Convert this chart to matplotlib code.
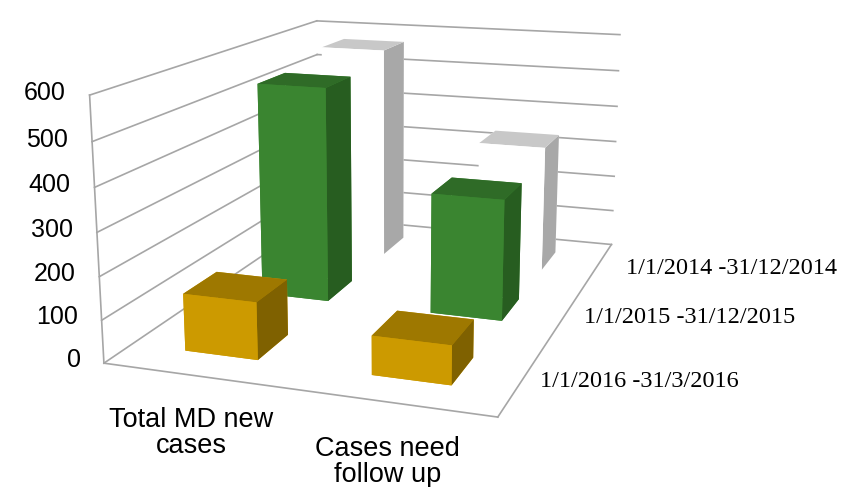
import matplotlib.pyplot as plt

categories = ["Total MD new\ncases", "Cases need\nfollow up"]
periods = ["1/1/2016 -31/3/2016", "1/1/2015 -31/12/2015", "1/1/2014 -31/12/2014"]
cases_2016 = [135, 90]
cases_2015 = [540, 300]
cases_2014 = [570, 335]
z_ticks = [0, 100, 200, 300, 400, 500, 600]

# per-face colours: bottom, top, front, back, left, right
faces_2016 = ["#cc9a00", "#9e7800", "#cc9a00", "#cc9a00", "#cc9a00", "#7f6100"]
faces_2015 = ["#3a8530", "#2f6b27", "#3a8530", "#3a8530", "#3a8530", "#275d20"]
faces_2014 = ["#ffffff", "#c8c8c8", "#ffffff", "#ffffff", "#ffffff", "#a8a8a8"]

grid_col = "#a6a6a6"
xmin, xmax = -0.5, 1.5
ymin, ymax = -0.5, 2.5
zmax = 600
bw = 0.4
label_dx = [0.085, 0.105, 0.175]

fig = plt.figure(figsize=(8.44, 4.87), dpi=100)
ax = fig.add_axes([-0.1985, -0.0625, 1.3, 1.345], projection="3d", computed_zorder=False)
ax.set_proj_type("persp", focal_length=0.39)
ax.view_init(elev=14, azim=-71)
ax.set_box_aspect((1.44, 2.05, 0.965))
ax.set_xlim(xmin, xmax)
ax.set_ylim(ymin, ymax)
ax.set_zlim(0, zmax)
ax.set_xticks([])
ax.set_yticks([])
ax.set_zticks([])
for axis in (ax.xaxis, ax.yaxis, ax.zaxis):
    axis.label.set_visible(False)
    axis.offsetText.set_visible(False)
ax.set_axis_off()

# walls and gridlines
for z in z_ticks:
    ax.plot([xmin, xmin], [ymin, ymax], [z, z], color=grid_col, lw=1.2, zorder=1)
    ax.plot([xmin, xmax], [ymax, ymax], [z, z], color=grid_col, lw=1.2, zorder=1)
ax.plot([xmin, xmin], [ymin, ymin], [0, zmax], color=grid_col, lw=1.2, zorder=1)
ax.plot([xmin, xmax], [ymin, ymin], [0, 0], color=grid_col, lw=1.2, zorder=1)
ax.plot([xmax, xmax], [ymin, ymax], [0, 0], color=grid_col, lw=1.2, zorder=1)

rows = [(cases_2014, faces_2014, 2), (cases_2015, faces_2015, 1), (cases_2016, faces_2016, 0)]
for order, (vals, faces, yrow) in enumerate(rows):
    for i, v in enumerate(vals):
        ax.bar3d(i - bw / 2, yrow - bw / 2, 0, bw, bw, v,
                 color=faces, shade=False, zorder=2 + order)

for z in z_ticks:
    ax.text(xmin - 0.13, ymin, z, str(z), ha="right", va="center",
            fontsize=18, family="Liberation Sans")
for i, cat in enumerate(categories):
    ax.text(i, ymin - 0.06, -62, cat, ha="center", va="top",
            fontsize=19.5, family="Liberation Sans", linespacing=1.0)
for j, p in enumerate(periods):
    ax.text(xmax + label_dx[j], j, 0, p, ha="left", va="center",
            fontsize=17.5, family="Liberation Serif")

fig.savefig("out.png", dpi=100)
